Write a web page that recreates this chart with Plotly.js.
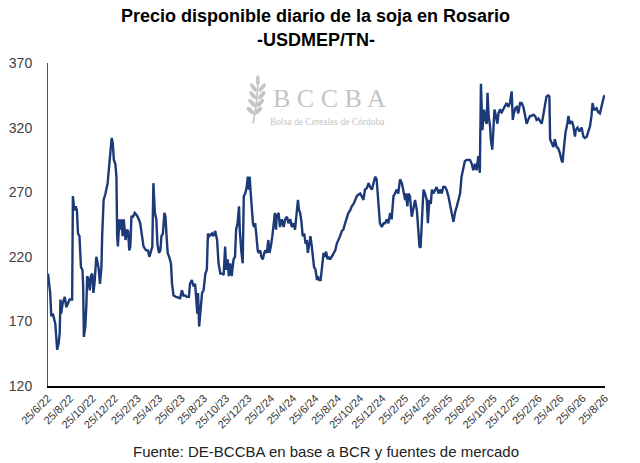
<!DOCTYPE html>
<html>
<head>
<meta charset="utf-8">
<script src="https://cdn.plot.ly/plotly-3.0.1.min.js"></script>
<style>html,body{margin:0;padding:0;background:#fff;}#chart{width:640px;height:463px;}</style>
</head>
<body>
<div id="chart"></div>
<script>
// Series start date and day offsets of each observation
const startDate = '2022-06-25';
const dayOffset = [
  0,4,6,9,13,15,20,23,25,29,
  32,34,36,40,46,50,55,59,66,68,
  72,76,79,82,86,90,94,96,98,102,
  105,107,111,114,117,121,124,127,132,135,
  138,142,146,148,152,157,159,163,167,170,
  174,177,180,184,187,189,191,195,198,201,
  204,207,209,212,216,219,222,225,228,232,
  237,243,248,252,257,261,268,273,277,281,
  285,288,292,296,299,303,307,310,314,318,
  321,324,327,331,336,339,343,350,357,361,
  366,370,375,379,385,388,393,398,402,405,
  408,410,413,421,425,430,434,437,441,448,
  452,457,462,466,471,475,480,484,487,491,
  494,498,502,507,511,514,518,522,524,528,
  532,535,539,543,546,549,551,554,557,560,
  563,566,569,573,576,580,583,587,591,594,
  598,602,605,609,613,616,620,623,625,630,
  634,639,644,648,653,657,662,666,671,675,
  680,683,686,689,693,696,700,704,707,710,
  714,717,720,724,727,731,735,737,741,745,
  749,753,756,760,764,767,771,775,780,785,
  789,794,798,803,807,812,816,821,826,830,
  835,839,844,848,853,857,862,866,871,876,
  880,885,889,894,898,903,907,912,917,921,
  926,930,935,939,944,948,953,957,962,967,
  971,976,978,982,985,989,994,998,1003,1008,
  1012,1015,1018,1021,1026,1030,1035,1038,1042,1046,
  1049,1053,1058,1062,1067,1071,1076,1080,1085,1089,
  1094,1099,1103,1108,1112,1117,1121,1126,1130,1135,
  1139,1144,1149,1153,1158,1162,1167,1171,1176,1180,
  1183,1187,1190,1192,1195,1199,1201,1204,1208,1210,
  1214,1217,1220,1224,1228,1231,1235,1240,1244,1249,
  1253,1258,1262,1267,1270,1273,1277,1281,1285,1290,
  1294,1299,1303,1308,1312,1317,1321,1326,1331,1335,
  1340,1344,1349,1353,1358,1362,1367,1370,1372,1376,
  1381,1385,1390,1394,1399,1403,1406,1410,1414,1419,
  1422,1426,1431,1435,1440,1442,1447,1452,1458,1463,
  1467,1472,1476,1481,1485,1488,1492,1495,1499,1503,
  1508,1512,1515,1519,1522
];
// Price USD MEP / tn
const priceUsd = [
  207,199,192,174,176,174,168,156,148,153,
  161,187,176,184,189,181,184,187,187,267,
  256,259,256,238,236,212,210,199,158,166,
  184,205,202,194,205,207,192,199,220,215,
  212,199,212,236,264,269,272,277,290,303,
  312,308,295,292,282,236,228,249,241,249,
  236,249,241,233,241,240,225,228,251,251,
  254,252,249,246,236,228,225,225,220,225,
  228,277,254,249,230,223,225,236,238,254,
  251,236,223,220,215,199,190,189,188,188,
  194,190,190,189,189,199,202,197,199,184,
  176,192,166,192,194,207,210,238,236,238,
  236,240,233,215,207,207,206,228,210,218,
  205,215,205,218,220,241,246,259,241,225,
  215,267,269,274,282,272,282,269,259,246,
  243,246,238,225,223,225,220,218,223,225,
  223,233,223,228,236,243,254,241,251,254,
  243,249,243,249,251,246,249,243,246,241,
  256,264,256,254,246,236,238,230,233,223,
  230,236,230,220,212,210,202,205,202,202,
  215,223,220,224,218,220,218,220,223,225,
  230,233,236,240,241,246,249,254,256,259,
  261,264,267,268,269,267,264,272,273,277,
  274,272,277,282,280,261,246,243,246,246,
  249,246,254,249,267,269,272,269,280,277,
  272,264,269,259,269,267,251,256,264,256,
  241,228,227,246,272,269,264,246,264,261,
  272,269,272,274,269,272,269,274,274,272,
  267,261,254,247,254,259,264,269,282,290,
  294,295,295,295,292,287,292,287,298,285,
  354,318,329,334,326,323,347,329,321,311,
  303,318,334,329,323,331,334,332,334,336,
  339,336,339,348,326,331,335,336,331,339,
  339,336,329,323,326,329,329,330,329,326,
  327,325,323,329,339,344,345,344,311,308,
  305,311,305,304,300,295,293,305,316,323,
  329,323,325,322,313,318,320,317,320,313,
  312,313,316,321,329,339,334,334,335,332,
  331,336,340,344,345
];
const tickLabels = ['25/6/22','25/8/22','25/10/22','25/12/22','25/2/23','25/4/23','25/6/23','25/8/23',
  '25/10/23','25/12/23','25/2/24','25/4/24','25/6/24','25/8/24','25/10/24','25/12/24','25/2/25',
  '25/4/25','25/6/25','25/8/25','25/10/25','25/12/25','25/2/26','25/4/26','25/6/26','25/8/26'];
const yTicks = [120,170,220,270,320,370];

const titleLine1 = 'Precio disponible diario de la soja en Rosario';
const titleLine2 = '-USDMEP/TN-';
const sourceText = 'Fuente: DE-BCCBA en base a BCR y fuentes de mercado';

function pad(n){return (n<10?'0':'')+n;}
function toISO(d){return d.getUTCFullYear()+'-'+pad(d.getUTCMonth()+1)+'-'+pad(d.getUTCDate());}
const s = startDate.split('-').map(Number);
const startMs = Date.UTC(s[0], s[1]-1, s[2]);
const dates = dayOffset.map(o => toISO(new Date(startMs + o*86400000)));
const tickVals = tickLabels.map(t => {const p=t.split('/').map(Number); return (2000+p[2])+'-'+pad(p[1])+'-'+pad(p[0]);});

const wheatSvg = "<svg xmlns='http://www.w3.org/2000/svg' viewBox='0 0 24 48'>" +
 "<g fill='#c6c6c6'>" +
 "<path d='M13 10 Q12 30 8 47' stroke='#c6c6c6' stroke-width='1.8' fill='none'/>" +
 "<ellipse cx='13' cy='5' rx='2' ry='5'/>" +
 "<ellipse cx='8.5' cy='12' rx='2.1' ry='5' transform='rotate(-38 8.5 12)'/>" +
 "<ellipse cx='17.5' cy='12' rx='2.1' ry='5' transform='rotate(38 17.5 12)'/>" +
 "<ellipse cx='8' cy='19.5' rx='2.1' ry='5' transform='rotate(-42 8 19.5)'/>" +
 "<ellipse cx='17' cy='19.5' rx='2.1' ry='5' transform='rotate(42 17 19.5)'/>" +
 "<ellipse cx='7' cy='27' rx='2.1' ry='5' transform='rotate(-45 7 27)'/>" +
 "<ellipse cx='15.5' cy='27' rx='2.1' ry='5' transform='rotate(45 15.5 27)'/>" +
 "<ellipse cx='5.5' cy='34.5' rx='2.1' ry='5' transform='rotate(-48 5.5 34.5)'/>" +
 "<ellipse cx='13.5' cy='34.5' rx='2.1' ry='5' transform='rotate(48 13.5 34.5)'/>" +
 "</g></svg>";

const trace = {
  x: dates, y: priceUsd, type: 'scatter', mode: 'lines',
  line: {color: '#1d3a78', width: 2.4}, hoverinfo: 'skip'
};

const titleFont = {family: 'Liberation Sans, Arial, sans-serif', size: 18, color: '#000000'};

const layout = {
  width: 640, height: 463,
  margin: {l: 48, r: 35, t: 63, b: 77},
  paper_bgcolor: '#ffffff', plot_bgcolor: '#ffffff',
  showlegend: false,
  font: {family: 'Liberation Sans, Arial, sans-serif', color: '#404040'},
  title: {text: ''},
  xaxis: {
    type: 'date', range: [tickVals[0], tickVals[tickVals.length-1]],
    tickmode: 'array', tickvals: tickVals, ticktext: tickLabels,
    tickangle: -45, tickfont: {size: 11, color: '#333333'},
    showgrid: false, zeroline: false,
    showline: true, linecolor: '#000000', linewidth: 1.5,
    ticks: '', fixedrange: true
  },
  yaxis: {
    range: [120, 370], tickmode: 'array', tickvals: yTicks,
    tickfont: {size: 14, color: '#404040'},
    showgrid: false, zeroline: false,
    showline: true, linecolor: '#555555', linewidth: 1,
    ticks: '', ticklabelstandoff: 12, fixedrange: true
  },
  images: [{
    source: 'data:image/svg+xml;utf8,' + encodeURIComponent(wheatSvg),
    xref: 'paper', yref: 'paper', x: 0.354, y: 0.962,
    sizex: 0.042, sizey: 0.152, sizing: 'stretch',
    xanchor: 'left', yanchor: 'top', layer: 'below'
  }],
  annotations: [
    {text: '<b>' + titleLine1 + '</b>', xref: 'paper', yref: 'paper', x: 0.481, y: 1.146,
     showarrow: false, xanchor: 'center', yanchor: 'middle', font: titleFont},
    {text: '<b>' + titleLine2 + '</b>', xref: 'paper', yref: 'paper', x: 0.481, y: 1.072,
     showarrow: false, xanchor: 'center', yanchor: 'middle', font: titleFont},
    {text: 'B C C B A', xref: 'paper', yref: 'paper', x: 0.506, y: 0.889,
     showarrow: false, xanchor: 'center', yanchor: 'middle',
     font: {family: 'Liberation Serif, DejaVu Serif, serif', size: 26, color: '#c4c4c4'}},
    {text: 'Bolsa de Cereales de Córdoba', xref: 'paper', yref: 'paper', x: 0.502, y: 0.818,
     showarrow: false, xanchor: 'center', yanchor: 'middle',
     font: {family: 'Liberation Serif, DejaVu Serif, serif', size: 9.5, color: '#c4c4c4'}},
    {text: sourceText, xref: 'paper', yref: 'paper', x: 0.499, y: -0.204,
     showarrow: false, xanchor: 'center', yanchor: 'middle',
     font: {family: 'Liberation Sans, Arial, sans-serif', size: 15, color: '#222222'}}
  ]
};

Plotly.newPlot('chart', [trace], layout, {staticPlot: true, displayModeBar: false});
</script>
</body>
</html>
